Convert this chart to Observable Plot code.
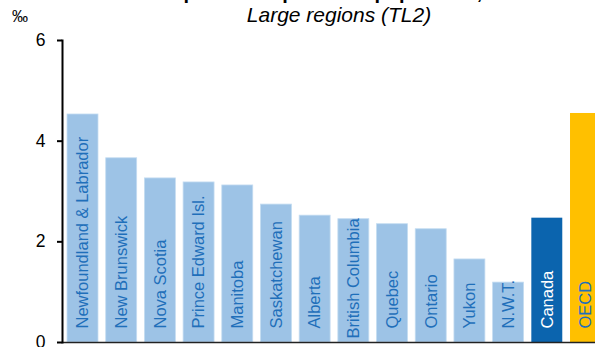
<!DOCTYPE html>
<html>
<head>
<meta charset="utf-8">
<script src="https://cdn.jsdelivr.net/npm/d3@7"></script>
<script src="https://cdn.jsdelivr.net/npm/@observablehq/plot@0.6"></script>
<style>
  html, body { margin: 0; padding: 0; background: #fff; }
  #wrap { position: relative; width: 595px; height: 347px; overflow: hidden; font-family: "Liberation Sans", Arial, sans-serif; }
  #title { position: absolute; left: 339px; top: -18px; transform: translateX(-50%); white-space: nowrap; font-weight: bold; font-size: 20px; line-height: 20px; color: #000; }
  #subtitle { position: absolute; left: 339px; top: 4px; transform: translateX(-50%); white-space: nowrap; font-style: italic; font-size: 21px; line-height: 21px; color: #000; }
  #unit { position: absolute; left: 12px; top: 9px; font-size: 16px; line-height: 16px; color: #000; }
  #chart { position: absolute; left: 0; top: 30px; }
</style>
</head>
<body>
<div id="wrap">
  <div id="title">Hospital beds per 1 000 population, 2010</div>
  <div id="subtitle">Large regions (TL2)</div>
  <div id="unit">‰</div>
  <div id="chart"></div>
</div>
<script>
const regions = ["Newfoundland & Labrador", "New Brunswick", "Nova Scotia", "Prince Edward Isl.", "Manitoba", "Saskatchewan", "Alberta", "British Columbia", "Quebec", "Ontario", "Yukon", "N.W.T.", "Canada", "OECD"];
const values = [4.53, 3.66, 3.26, 3.18, 3.12, 2.74, 2.52, 2.45, 2.35, 2.25, 1.65, 1.19, 2.47, 4.55];
const kinds = ["region", "region", "region", "region", "region", "region", "region", "region", "region", "region", "region", "region", "country", "oecd"];
const yTicks = [0, 2, 4, 6];

const data = regions.map((name, i) => ({name, value: values[i], kind: kinds[i]}));

const fillColor = {region: "#9dc3e6", country: "#0b64ae", oecd: "#ffc000"};
const textColor = {region: "#1f6fba", country: "#ffffff", oecd: "#1f6fba"};

// labels that would overflow their bar sit lower (as in the reference)
const tight = d => d.name === "British Columbia";

const labelOpts = {x: "name", y: 0, text: "name", rotate: -90, textAnchor: "start", lineAnchor: "middle", fontSize: 16.5};

const chart = Plot.plot({
  width: 595,
  height: 317,
  marginTop: 10,
  marginBottom: 5,
  marginLeft: 62,
  marginRight: 0,
  style: {fontFamily: "Liberation Sans, Arial, sans-serif", background: "transparent", overflow: "hidden"},
  x: {domain: regions, range: [62, 606], paddingInner: 0.2, paddingOuter: 0.13, align: 0.5, round: false, axis: null},
  y: {domain: [0, 6], axis: null},
  marks: [
    Plot.barY(data.filter(d => d.kind === "region"), {x: "name", y: "value", fill: fillColor.region, stroke: "#c4dcf1", strokeWidth: 0.8}),
    Plot.barY(data.filter(d => d.kind === "country"), {x: "name", y: "value", fill: fillColor.country}),
    Plot.barY(data.filter(d => d.kind === "oecd"), {x: "name", y: "value", fill: fillColor.oecd}),
    Plot.text(data.filter(d => d.kind !== "country" && !tight(d)), {...labelOpts, dy: -14, fill: textColor.region}),
    Plot.text(data.filter(d => tight(d)), {...labelOpts, dy: -4, fill: textColor.region}),
    Plot.text(data.filter(d => d.kind === "country"), {...labelOpts, dy: -14, fill: textColor.country}),
    Plot.ruleY([0], {stroke: "#222", strokeWidth: 1.5}),
    Plot.frame({anchor: "left", stroke: "#000", strokeWidth: 2}),
    Plot.axisY({ticks: yTicks, tickFormat: d3.format("d"), tickSize: 5, tickPadding: 12, fontSize: 17.5, stroke: "#000", strokeWidth: 2, fill: "#000", label: null})
  ]
});
document.getElementById("chart").appendChild(chart);
</script>
</body>
</html>
